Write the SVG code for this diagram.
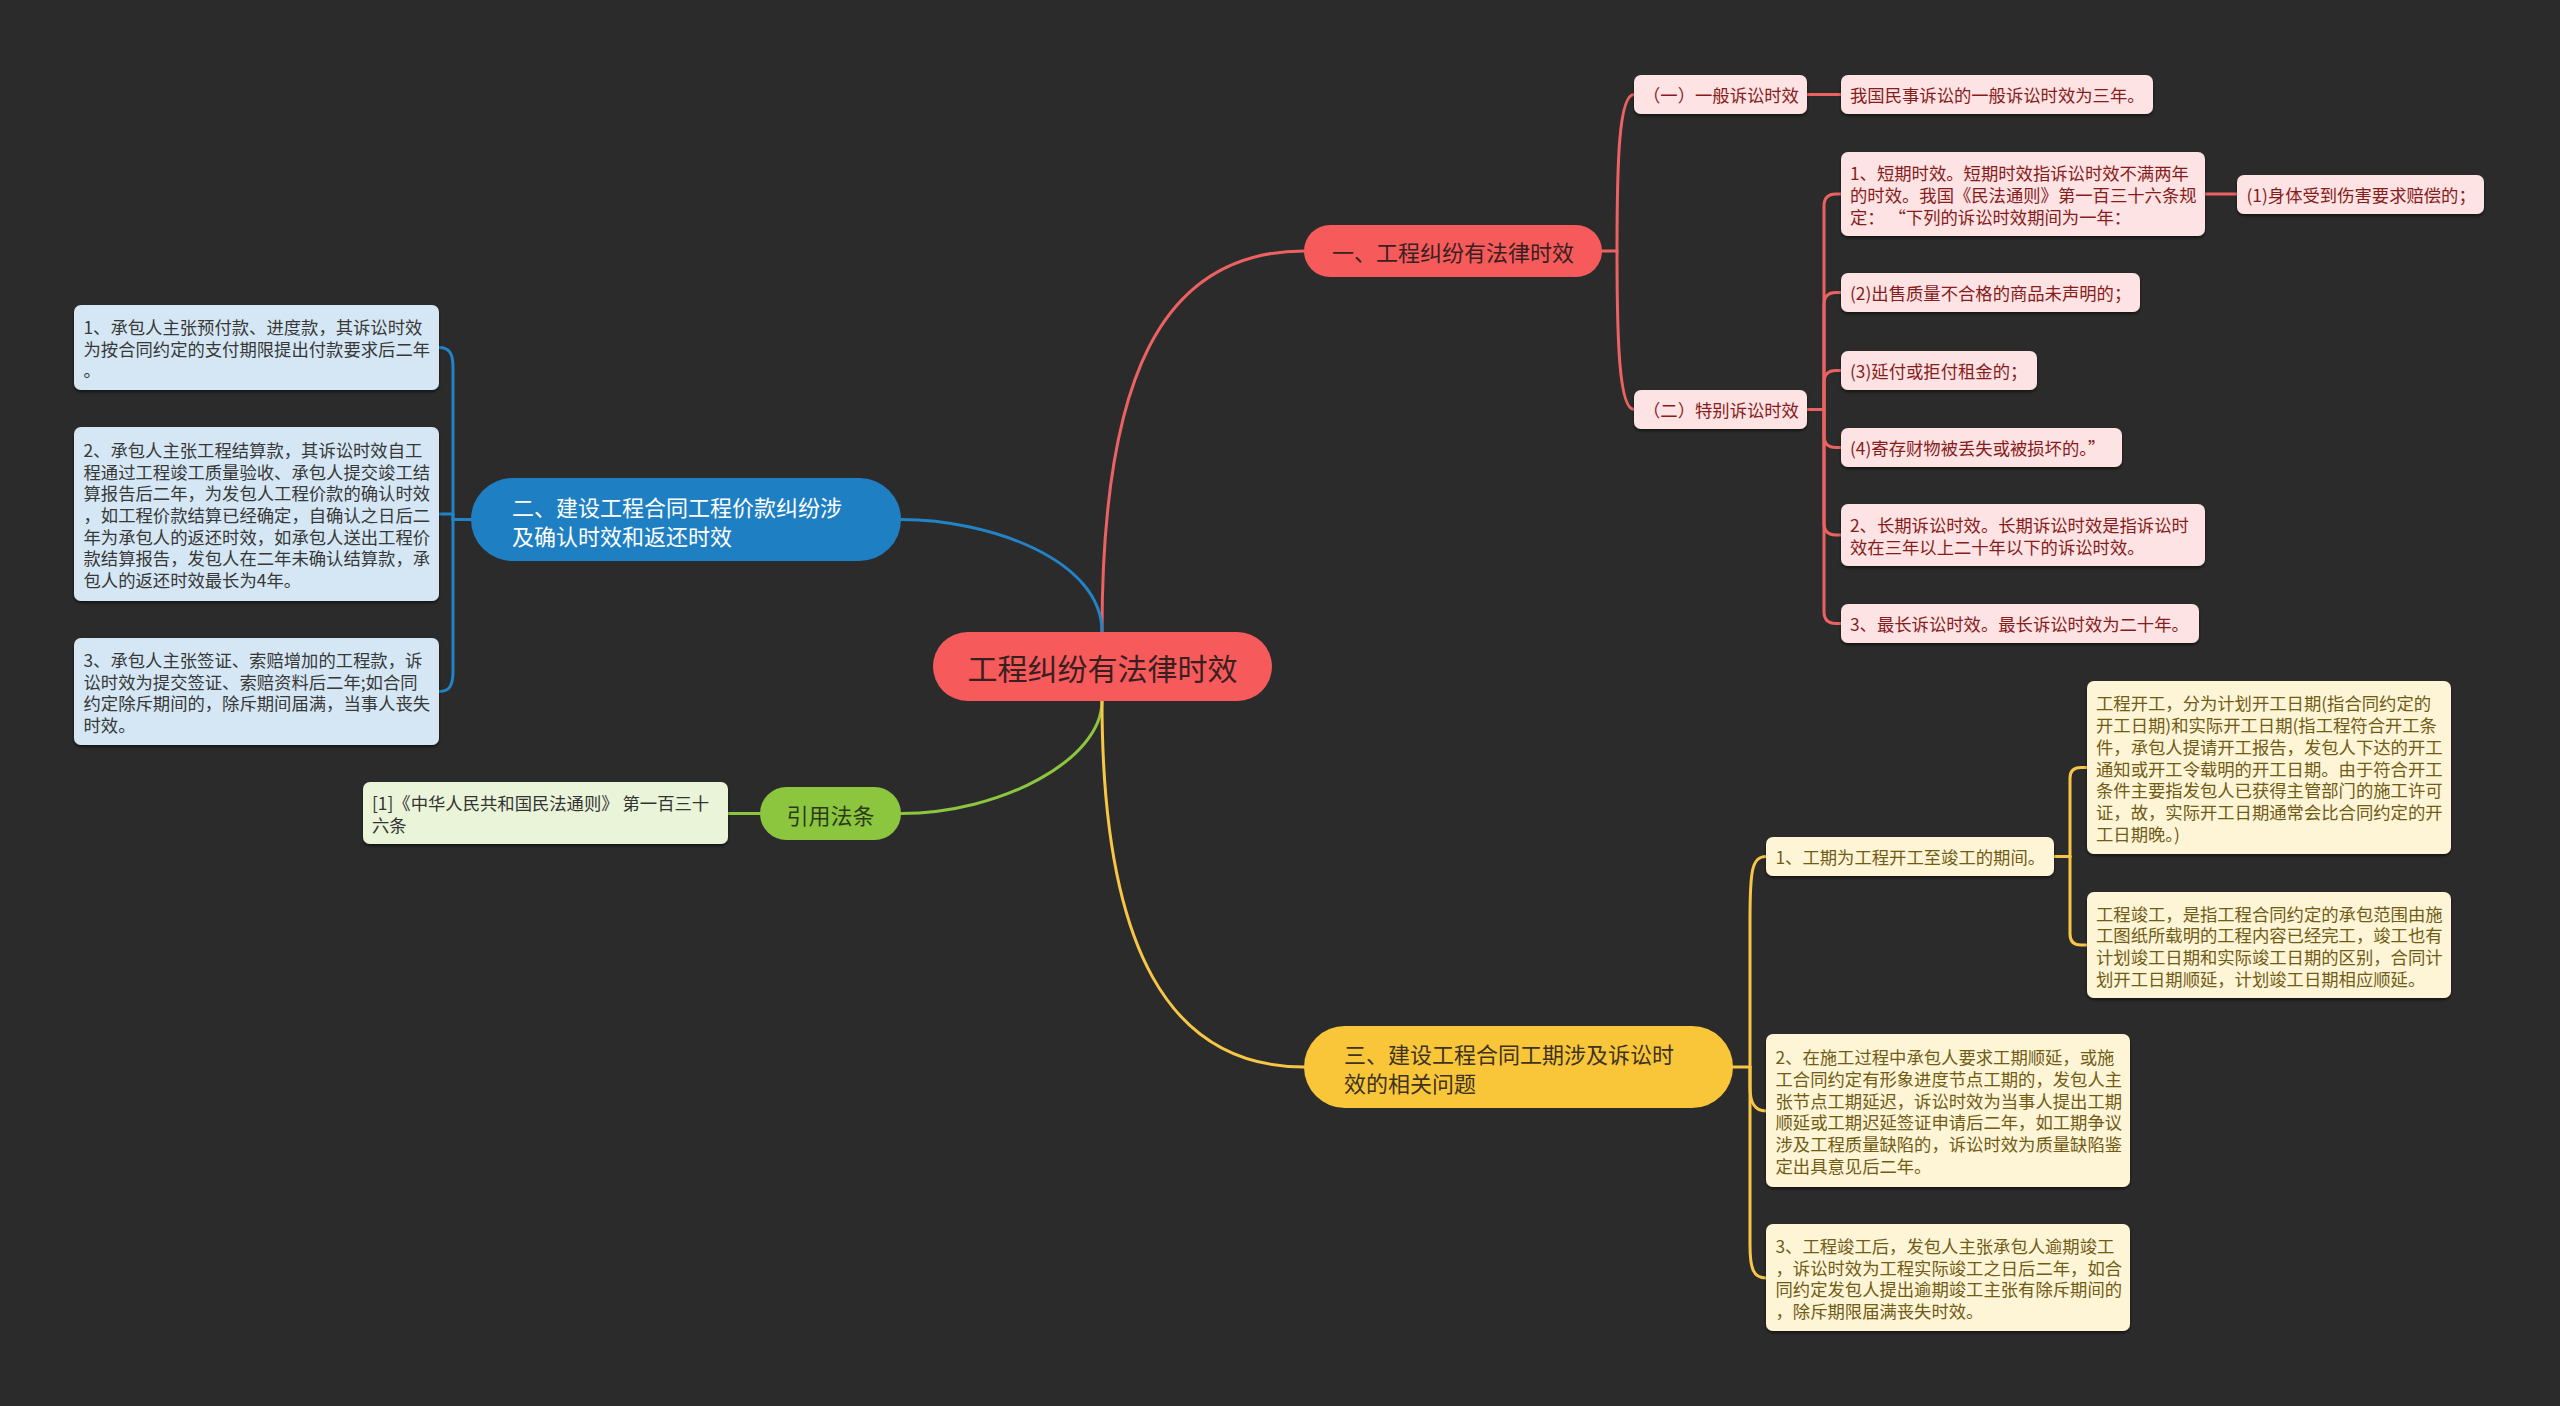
<svg xmlns="http://www.w3.org/2000/svg" width="2560" height="1406" viewBox="0 0 2560 1406">
<defs>
<filter id="sh" x="-5%" y="-10%" width="110%" height="130%"><feDropShadow dx="0" dy="2" stdDeviation="1.5" flood-color="#000" flood-opacity="0.55"/></filter>
<style>
text{font-family:"Noto Sans CJK SC","Noto Sans",sans-serif;dominant-baseline:central}
.lf{font-size:17.33px}
.br{font-size:22px}
.c{stroke-width:3;fill:none;stroke-linecap:round;stroke-linejoin:round}
.cr{stroke:#ec6262}.cb{stroke:#2283c6}.cg{stroke:#8cc63f}.cy{stroke:#f7c646}
.rl{fill:#fde3e3;filter:url(#sh)}.rt{fill:#861c1c}
.bl{fill:#d5e7f4;filter:url(#sh)}.bt{fill:#383838}
.yl{fill:#fdf5d6;filter:url(#sh)}.yt{fill:#715c16}
.gl{fill:#eaf4d9;filter:url(#sh)}.gt{fill:#333333}
</style>
</defs>
<rect width="2560" height="1406" fill="#2b2b2b"/>
<g id="connectors">
<path class="c cr" d="M1102 632 C1102 380 1160 251 1304 251"/>
<path class="c cb" d="M1102 632 C1102 560 990 519.5 901 519.5"/>
<path class="c cg" d="M1102 701 C1102 760 1000 813.5 901 813.5"/>
<path class="c cy" d="M1102 701 C1102 950 1170 1067 1304 1067"/>
<path class="c cr" d="M1602 251 H1617 C1617 160 1619 94.5 1634 94.5"/>
<path class="c cr" d="M1617 251 C1617 340 1619 409.5 1634 409.5"/>
<path class="c cr" d="M1807 94.5 H1841"/>
<path class="c cr" d="M1807 409.5 H1824"/>
<path class="c cr" d="M1824 409.5 V206 Q1824 194 1836 194 H1841"/>
<path class="c cr" d="M1824 409.5 V304.5 Q1824 292.5 1836 292.5 H1841"/>
<path class="c cr" d="M1824 409.5 V382.5 Q1824 370.5 1836 370.5 H1841"/>
<path class="c cr" d="M1824 409.5 V435.5 Q1824 447.5 1836 447.5 H1841"/>
<path class="c cr" d="M1824 409.5 V523 Q1824 535 1836 535 H1841"/>
<path class="c cr" d="M1824 409.5 V611.5 Q1824 623.5 1836 623.5 H1841"/>
<path class="c cr" d="M2205 194 H2237"/>
<path class="c cb" d="M471 519.5 H453"/>
<path class="c cb" d="M453 519.5 V368 C453 354 450 347.5 439 347.5"/>
<path class="c cb" d="M453 519.5 V514 H439"/>
<path class="c cb" d="M453 519.5 V671 C453 685 450 691.5 439 691.5"/>
<path class="c cg" d="M760 813.5 H728"/>
<path class="c cy" d="M1733 1067 H1750"/>
<path class="c cy" d="M1750 1067 V920 C1750 870 1752 856.5 1766 856.5"/>
<path class="c cy" d="M1750 1067 V1087 C1750 1102 1754 1111 1766 1111"/>
<path class="c cy" d="M1750 1067 V1245 C1750 1268 1753 1278 1766 1278"/>
<path class="c cy" d="M2054 856.5 H2070"/>
<path class="c cy" d="M2070 856.5 V778 Q2070 767.5 2081 767.5 H2087"/>
<path class="c cy" d="M2070 856.5 V934 Q2070 945 2081 945 H2087"/>
</g>
<g id="root">
<rect x="933" y="632" width="339" height="69" rx="34.5" fill="#f65a5b"/>
<text x="1102.5" y="666.5" font-size="30" text-anchor="middle" fill="#3a1f1f">工程纠纷有法律时效</text>
</g>
<g id="branch-1">
<rect x="1304" y="225" width="298" height="52" rx="26" fill="#f65a5b"/>
<text class="br" x="1453" y="251" text-anchor="middle" fill="#3a1f1f">一、工程纠纷有法律时效</text>
</g>
<g id="branch-2">
<rect x="471" y="478" width="430" height="83" rx="41.5" fill="#1f7fc3"/>
<text class="br" x="512" fill="#ffffff"><tspan x="512" y="506">二、建设工程合同工程价款纠纷涉</tspan><tspan x="512" y="534.5">及确认时效和返还时效</tspan></text>
</g>
<g id="branch-3">
<rect x="1304" y="1026" width="429" height="82" rx="41" fill="#f9c63a"/>
<text class="br" fill="#3d3320"><tspan x="1344" y="1053">三、建设工程合同工期涉及诉讼时</tspan><tspan x="1344" y="1081.5">效的相关问题</tspan></text>
</g>
<g id="branch-4">
<rect x="760" y="787" width="141" height="53" rx="26.5" fill="#8cc63f"/>
<text class="br" x="830.5" y="813.5" text-anchor="middle" fill="#2c3a1c">引用法条</text>
</g>
<g id="r-general">
<rect class="rl" x="1634" y="75" width="173" height="39" rx="7"/>
<text class="lf rt" x="1643" y="94.5">（一）一般诉讼时效</text>
</g>
<g id="r-general-1">
<rect class="rl" x="1841" y="75" width="312" height="39" rx="7"/>
<text class="lf rt" x="1850" y="94.5">我国民事诉讼的一般诉讼时效为三年。</text>
</g>
<g id="r-special">
<rect class="rl" x="1634" y="390" width="173" height="39" rx="7"/>
<text class="lf rt" x="1643" y="409.5">（二）特别诉讼时效</text>
</g>
<g id="r-short">
<rect class="rl" x="1841" y="152" width="364" height="84" rx="7"/>
<text class="lf rt"><tspan x="1850" y="172.3">1、短期时效。短期时效指诉讼时效不满两年</tspan><tspan x="1850" y="194">的时效。我国《民法通则》第一百三十六条规</tspan><tspan x="1850" y="215.7">定：  “下列的诉讼时效期间为一年：</tspan></text>
</g>
<g id="r-short-1">
<rect class="rl" x="2237" y="175" width="247" height="39" rx="7"/>
<text class="lf rt" x="2246.5" y="194.5">(1)身体受到伤害要求赔偿的；</text>
</g>
<g id="r-2">
<rect class="rl" x="1841" y="273" width="299" height="39" rx="7"/>
<text class="lf rt" x="1850" y="292.5">(2)出售质量不合格的商品未声明的；</text>
</g>
<g id="r-3">
<rect class="rl" x="1841" y="351" width="196" height="39" rx="7"/>
<text class="lf rt" x="1850" y="370.5">(3)延付或拒付租金的；</text>
</g>
<g id="r-4">
<rect class="rl" x="1841" y="428" width="281" height="39" rx="7"/>
<text class="lf rt" x="1850" y="447.5">(4)寄存财物被丢失或被损坏的。”</text>
</g>
<g id="r-long">
<rect class="rl" x="1841" y="504" width="364" height="62" rx="7"/>
<text class="lf rt"><tspan x="1850" y="524.2">2、长期诉讼时效。长期诉讼时效是指诉讼时</tspan><tspan x="1850" y="545.9">效在三年以上二十年以下的诉讼时效。</tspan></text>
</g>
<g id="r-longest">
<rect class="rl" x="1841" y="604" width="358" height="39" rx="7"/>
<text class="lf rt" x="1850" y="623.5">3、最长诉讼时效。最长诉讼时效为二十年。</text>
</g>
<g id="b-1">
<rect class="bl" x="74" y="305" width="365" height="85" rx="7"/>
<text class="lf bt"><tspan x="83.5" y="325.8">1、承包人主张预付款、进度款，其诉讼时效</tspan><tspan x="83.5" y="347.5">为按合同约定的支付期限提出付款要求后二年</tspan><tspan x="83.5" y="369.2">。</tspan></text>
</g>
<g id="b-2">
<rect class="bl" x="74" y="427" width="365" height="174" rx="7"/>
<text class="lf bt"><tspan x="83.5" y="448.9">2、承包人主张工程结算款，其诉讼时效自工</tspan><tspan x="83.5" y="470.6">程通过工程竣工质量验收、承包人提交竣工结</tspan><tspan x="83.5" y="492.3">算报告后二年，为发包人工程价款的确认时效</tspan><tspan x="83.5" y="514">，如工程价款结算已经确定，自确认之日后二</tspan><tspan x="83.5" y="535.7">年为承包人的返还时效，如承包人送出工程价</tspan><tspan x="83.5" y="557.4">款结算报告，发包人在二年未确认结算款，承</tspan><tspan x="83.5" y="579.1">包人的返还时效最长为4年。</tspan></text>
</g>
<g id="b-3">
<rect class="bl" x="74" y="638" width="365" height="107" rx="7"/>
<text class="lf bt"><tspan x="83.5" y="659">3、承包人主张签证、索赔增加的工程款，诉</tspan><tspan x="83.5" y="680.7">讼时效为提交签证、索赔资料后二年;如合同</tspan><tspan x="83.5" y="702.4">约定除斥期间的，除斥期间届满，当事人丧失</tspan><tspan x="83.5" y="724.1">时效。</tspan></text>
</g>
<g id="g-1">
<rect class="gl" x="363" y="782" width="365" height="62" rx="7"/>
<text class="lf gt"><tspan x="372" y="802.2">[1]《中华人民共和国民法通则》 第一百三十</tspan><tspan x="372" y="823.9">六条</tspan></text>
</g>
<g id="y-1">
<rect class="yl" x="1766" y="837" width="288" height="39" rx="7"/>
<text class="lf yt" x="1775.5" y="856.5">1、工期为工程开工至竣工的期间。</text>
</g>
<g id="y-1a">
<rect class="yl" x="2087" y="681" width="364" height="173" rx="7"/>
<text class="lf yt"><tspan x="2096" y="702.4">工程开工，分为计划开工日期(指合同约定的</tspan><tspan x="2096" y="724.1">开工日期)和实际开工日期(指工程符合开工条</tspan><tspan x="2096" y="745.8">件，承包人提请开工报告，发包人下达的开工</tspan><tspan x="2096" y="767.5">通知或开工令载明的开工日期。由于符合开工</tspan><tspan x="2096" y="789.2">条件主要指发包人已获得主管部门的施工许可</tspan><tspan x="2096" y="810.9">证，故，实际开工日期通常会比合同约定的开</tspan><tspan x="2096" y="832.6">工日期晚。)</tspan></text>
</g>
<g id="y-1b">
<rect class="yl" x="2087" y="892" width="364" height="106" rx="7"/>
<text class="lf yt"><tspan x="2096" y="912.5">工程竣工，是指工程合同约定的承包范围由施</tspan><tspan x="2096" y="934.2">工图纸所载明的工程内容已经完工，竣工也有</tspan><tspan x="2096" y="955.9">计划竣工日期和实际竣工日期的区别，合同计</tspan><tspan x="2096" y="977.6">划开工日期顺延，计划竣工日期相应顺延。</tspan></text>
</g>
<g id="y-2">
<rect class="yl" x="1766" y="1034" width="364" height="153" rx="7"/>
<text class="lf yt"><tspan x="1775.5" y="1056.3">2、在施工过程中承包人要求工期顺延，或施</tspan><tspan x="1775.5" y="1078">工合同约定有形象进度节点工期的，发包人主</tspan><tspan x="1775.5" y="1099.7">张节点工期延迟，诉讼时效为当事人提出工期</tspan><tspan x="1775.5" y="1121.4">顺延或工期迟延签证申请后二年，如工期争议</tspan><tspan x="1775.5" y="1143.1">涉及工程质量缺陷的，诉讼时效为质量缺陷鉴</tspan><tspan x="1775.5" y="1164.8">定出具意见后二年。</tspan></text>
</g>
<g id="y-3">
<rect class="yl" x="1766" y="1224" width="364" height="107" rx="7"/>
<text class="lf yt"><tspan x="1775.5" y="1245">3、工程竣工后，发包人主张承包人逾期竣工</tspan><tspan x="1775.5" y="1266.7">，诉讼时效为工程实际竣工之日后二年，如合</tspan><tspan x="1775.5" y="1288.4">同约定发包人提出逾期竣工主张有除斥期间的</tspan><tspan x="1775.5" y="1310.1">，除斥期限届满丧失时效。</tspan></text>
</g>
</svg>
